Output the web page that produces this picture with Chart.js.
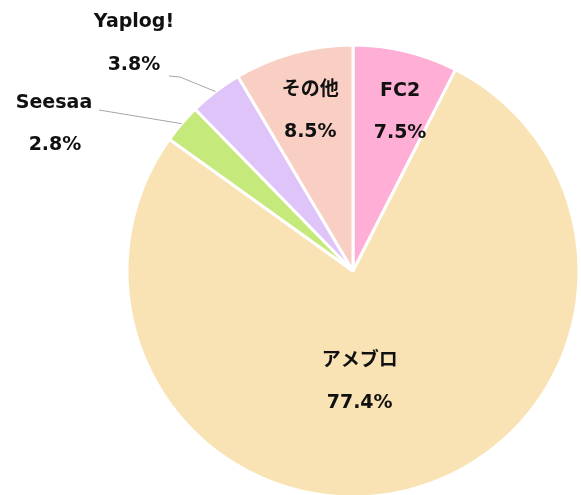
<!DOCTYPE html>
<html lang="ja">

<head>
    <meta charset="UTF-8">
    <title>Blog share</title>
    <script src="https://cdn.jsdelivr.net/npm/chart.js@4/dist/chart.umd.min.js"></script>
    <style>
        body { margin: 0; background: #fff; }
        #wrap { width: 581px; height: 495px; }
    </style>
</head>

<body>
    <div id="wrap"><canvas id="myChart"></canvas></div>
</body>
<script>
    const labels = ['FC2', 'アメブロ', 'Seesaa', 'Yaplog!', 'その他'];
    const shares = [7.5, 77.4, 2.8, 3.8, 8.5];
    const colors = ['#FFAED6', '#F9E3B4', '#C5E97A', '#DEC4F8', '#F9CFC3'];

    // label placement per slice: inside ones use a radius fraction (+ small nudge),
    // outside ones get a text spot plus a leader line to the arc
    const labelSpots = [
        { inside: 0.74, nudge: [8, 4] },
        { inside: 0.48, nudge: [-19, 6] },
        { text: [54, 103], value: [55, 145], leader: [[99, 110]] },
        { text: [134, 22], value: [134, 65], leader: [[169, 76], [180, 77]] },
        { inside: 0.75, nudge: [2, 4] }
    ];

    const font = 'bold 19px "DejaVu Sans", "Noto Sans CJK JP", sans-serif';

    const sliceLabels = {
        id: 'sliceLabels',
        afterDatasetsDraw(chart) {
            const ctx = chart.ctx;
            const meta = chart.getDatasetMeta(0);
            ctx.save();
            ctx.font = font;
            ctx.fillStyle = '#111';
            ctx.textAlign = 'center';
            ctx.textBaseline = 'middle';
            meta.data.forEach((arc, i) => {
                const spot = labelSpots[i];
                const mid = (arc.startAngle + arc.endAngle) / 2;
                const txt = labels[i];
                const val = shares[i].toFixed(1) + '%';
                if (spot.inside) {
                    const r = arc.outerRadius * spot.inside;
                    const x = arc.x + Math.cos(mid) * r + spot.nudge[0];
                    const y = arc.y + Math.sin(mid) * r + spot.nudge[1];
                    ctx.fillText(txt, x, y - 21);
                    ctx.fillText(val, x, y + 21);
                } else {
                    const ex = arc.x + Math.cos(mid) * arc.outerRadius;
                    const ey = arc.y + Math.sin(mid) * arc.outerRadius;
                    ctx.strokeStyle = '#A6A6A6';
                    ctx.lineWidth = 1;
                    ctx.beginPath();
                    ctx.moveTo(spot.leader[0][0], spot.leader[0][1]);
                    spot.leader.slice(1).forEach(p => ctx.lineTo(p[0], p[1]));
                    ctx.lineTo(ex, ey);
                    ctx.stroke();
                    ctx.fillText(txt, spot.text[0], spot.text[1]);
                    ctx.fillText(val, spot.value[0], spot.value[1]);
                }
            });
            ctx.restore();
        }
    };

    var ctx = document.getElementById('myChart').getContext('2d');
    var chart = new Chart(ctx, {
        type: 'pie',
        data: {
            labels: labels,
            datasets: [{
                data: shares,
                backgroundColor: colors,
                borderColor: '#fff',
                borderWidth: 3,
                radius: 226
            }]
        },
        options: {
            responsive: true,
            maintainAspectRatio: false,
            animation: false,
            layout: { padding: { top: 47, bottom: 0, left: 126, right: 1 } },
            plugins: {
                legend: { display: false },
                tooltip: { enabled: false }
            }
        },
        plugins: [sliceLabels]
    });
</script>

</html>
